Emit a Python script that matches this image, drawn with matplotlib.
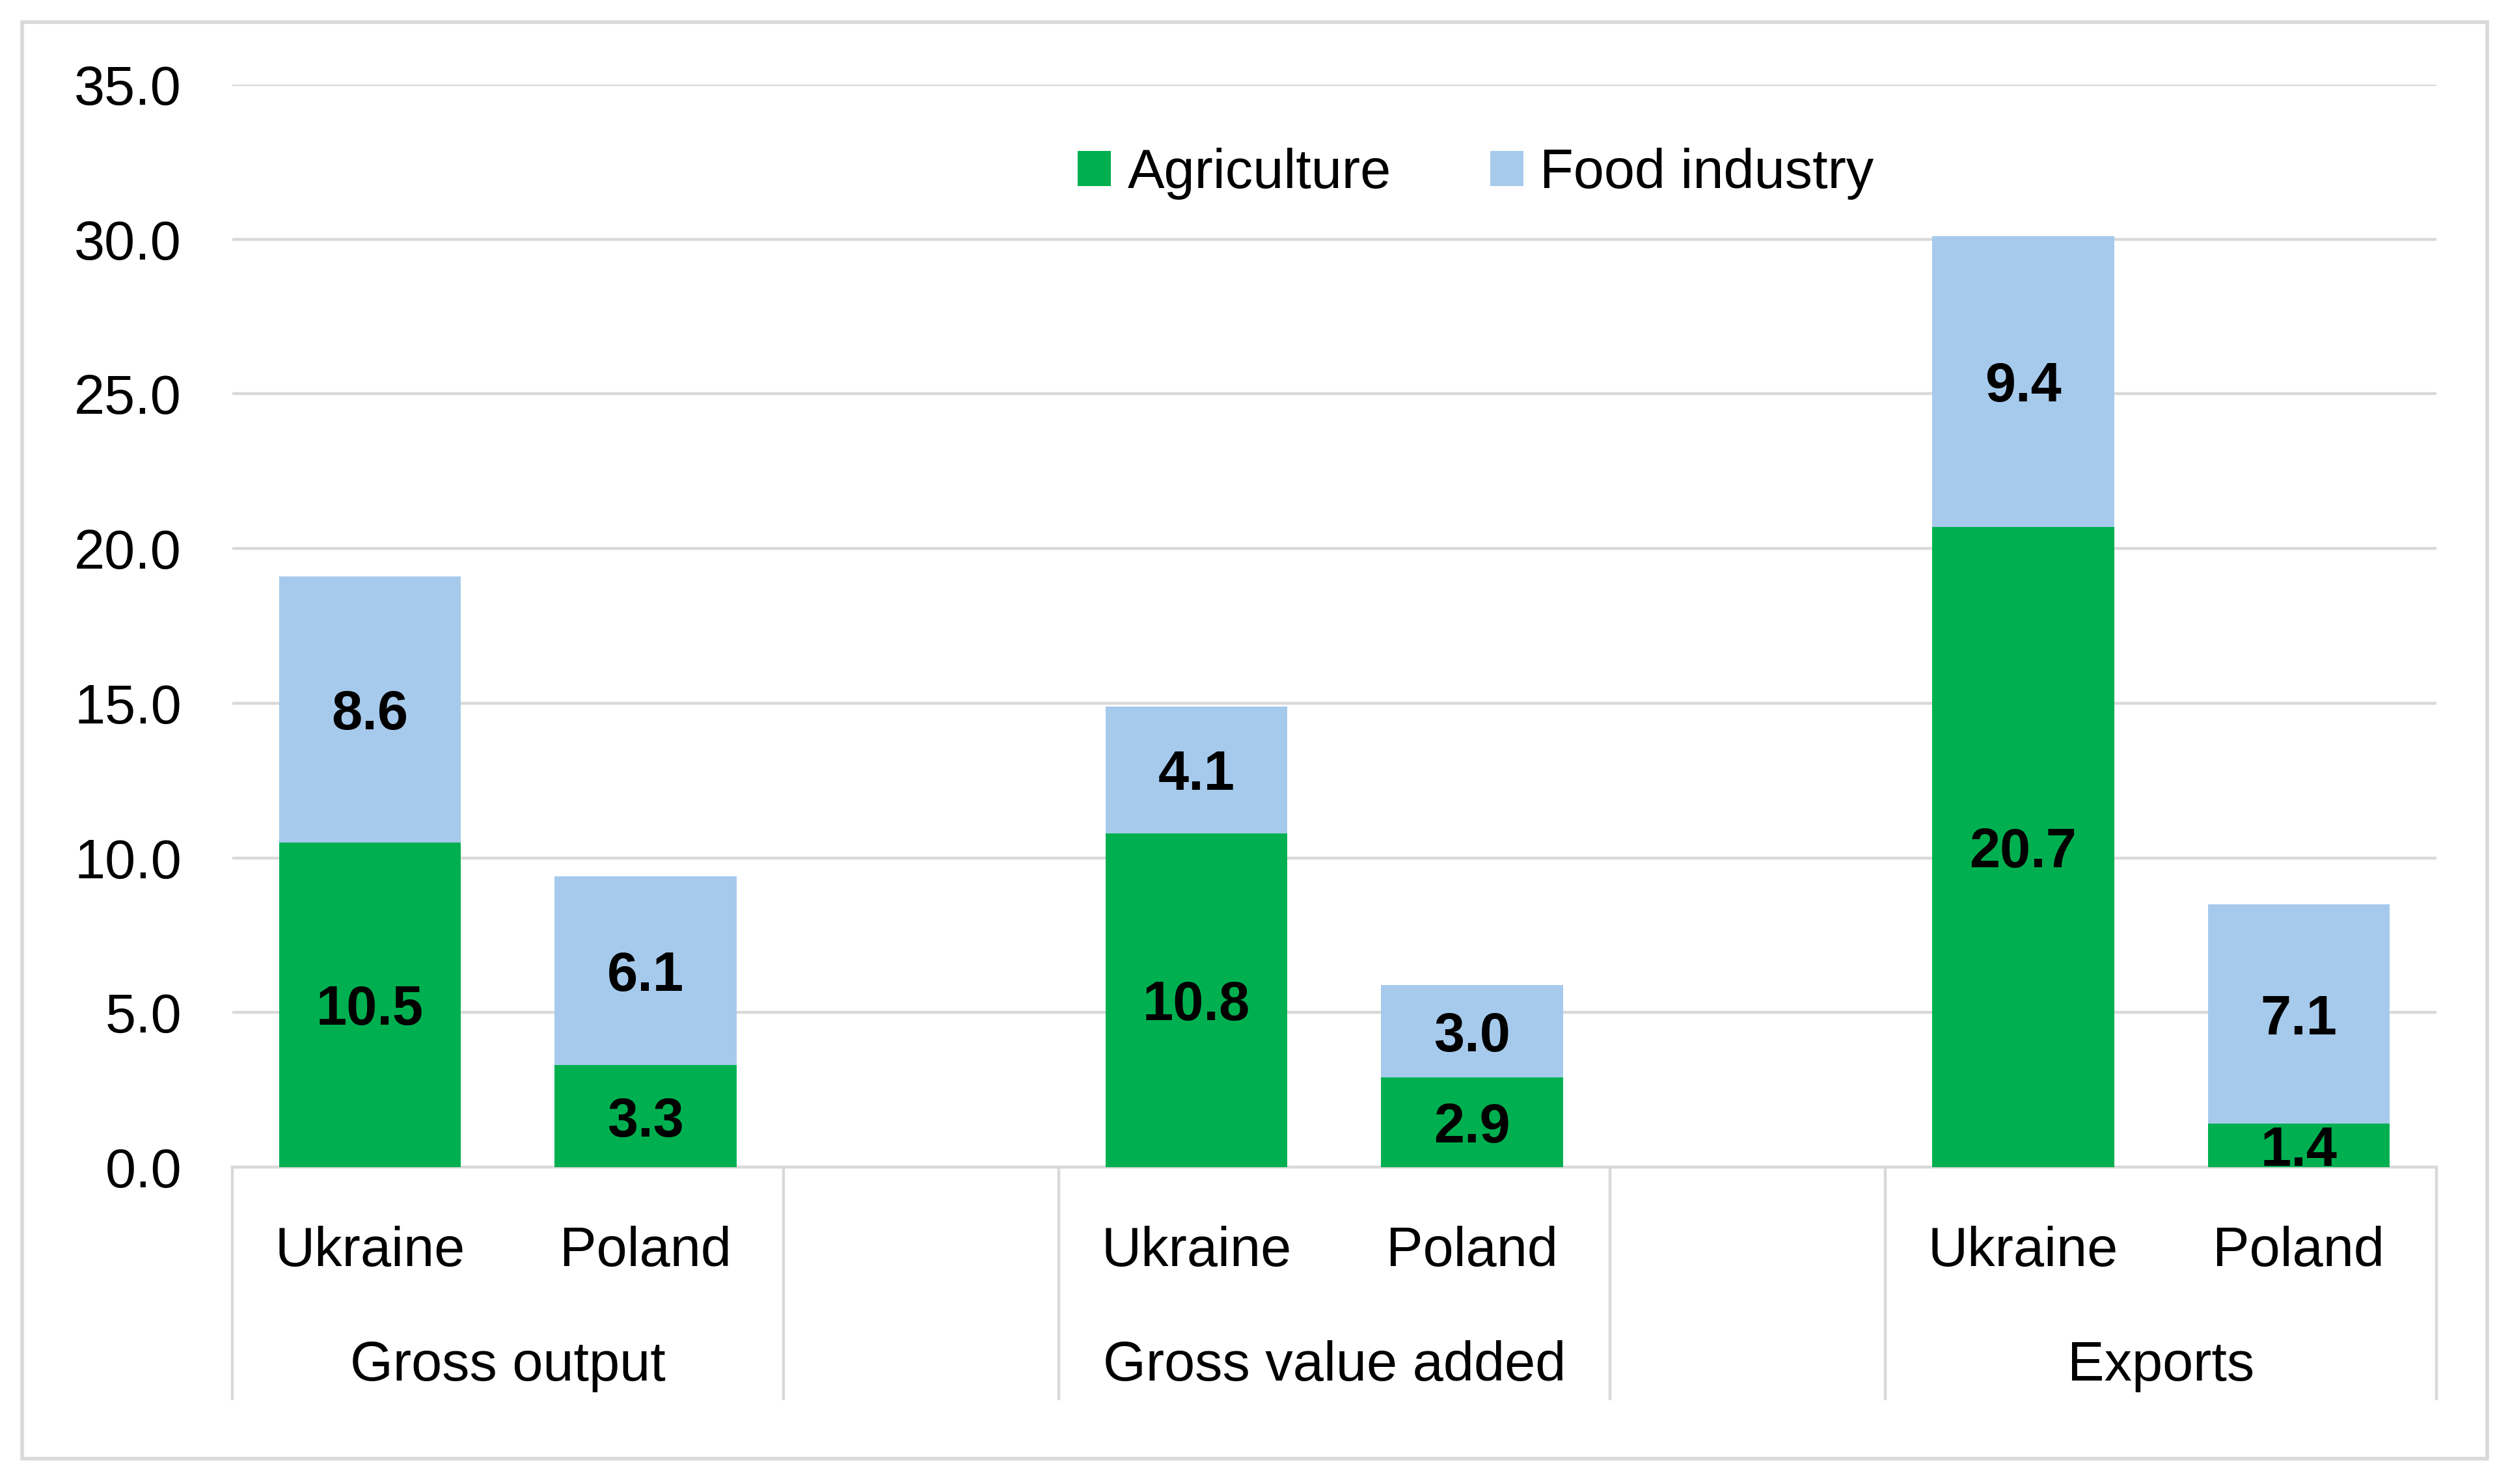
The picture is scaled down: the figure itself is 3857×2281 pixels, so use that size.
import matplotlib
matplotlib.use("Agg")
from matplotlib import pyplot as plt
from matplotlib.patches import Patch, Rectangle
from matplotlib.ticker import FormatStrFormatter

plt.rcParams['font.family'] = ['Liberation Sans', 'DejaVu Sans']

groups = ["Gross output", "Gross value added", "Exports"]
countries = ["Ukraine", "Poland"]
agriculture = [10.5, 3.3, 10.8, 2.9, 20.7, 1.4]
food_industry = [8.6, 6.1, 4.1, 3.0, 9.4, 7.1]
series_names = ["Agriculture", "Food industry"]
yticks = [0, 5, 10, 15, 20, 25, 30, 35]

GREEN = "#00B050"
BLUE = "#A6CAEC"
GRID = "#D9D9D9"
FS = 30.5

fig = plt.figure(figsize=(19.285, 11.405), dpi=200)
ax = fig.add_axes([0.0925, 0.2135, 0.9707 - 0.0925, 0.943 - 0.2135])

# slot positions: each group has its countries, then one blank slot
pos = []
for g in range(len(groups)):
    for c in range(len(countries)):
        pos.append(g * (len(countries) + 1) + c)

w = 0.66
ax.bar(pos, agriculture, width=w, color=GREEN, zorder=3)
ax.bar(pos, food_industry, width=w, bottom=agriculture, color=BLUE, zorder=3)

for x, a, f in zip(pos, agriculture, food_industry):
    ax.text(x, a / 2, f"{a:.1f}", ha='center', va='center_baseline', fontsize=FS,
            fontweight='bold', zorder=4)
    ax.text(x, a + f / 2, f"{f:.1f}", ha='center', va='center_baseline', fontsize=FS,
            fontweight='bold', zorder=4)

xmin, xmax = -0.5, pos[-1] + 0.5
ax.set_xlim(xmin, xmax)
ax.set_ylim(0, 35)
ax.set_yticks(yticks)
ax.yaxis.set_major_formatter(FormatStrFormatter('%.1f'))
ax.tick_params(axis='y', length=0, pad=28, labelsize=FS)
ax.set_xticks([])
ax.grid(axis='y', color=GRID, linewidth=1.6, zorder=0)
ax.set_axisbelow(True)
for s in ['top', 'right', 'left']:
    ax.spines[s].set_visible(False)
ax.spines['bottom'].set_color(GRID)
ax.spines['bottom'].set_linewidth(1.6)

# multi-level category axis
trans = ax.get_xaxis_transform()
for x, lab in zip(pos, countries * len(groups)):
    ax.text(x, -0.078, lab, transform=trans, ha='center', va='center', fontsize=FS)
seps = []
for g, name in enumerate(groups):
    start = g * (len(countries) + 1) - 0.5
    end = start + len(countries)
    seps += [start, end]
    ax.text((start + end) / 2, -0.184, name, transform=trans, ha='center',
            va='center', fontsize=FS)
for s in sorted(set(seps)):
    ax.plot([s, s], [0, -0.214], transform=trans, color=GRID, linewidth=1.6,
            clip_on=False)

handles = [Patch(facecolor=GREEN), Patch(facecolor=BLUE)]
fig.legend(handles, series_names, loc='center', bbox_to_anchor=(0.588, 0.883),
           ncol=2, frameon=False, fontsize=FS, handlelength=0.6, handleheight=0.6,
           handletextpad=0.3, columnspacing=1.8)

fig.patches.append(Rectangle((0.0089, 0.017), 0.991 - 0.0089, 0.985 - 0.017,
                             transform=fig.transFigure, fill=False,
                             edgecolor=GRID, linewidth=2))

fig.savefig("out.png", dpi=200)
